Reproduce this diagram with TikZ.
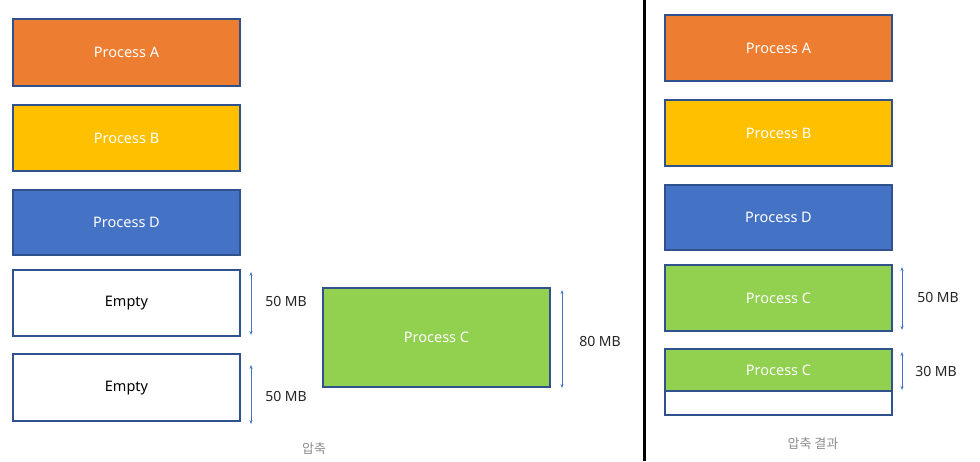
\documentclass[tikz,border=0pt]{standalone}
\usepackage{fontspec}
\setmainfont{Noto Sans}
\newfontfamily\krfont{Noto Sans CJK KR}
\usetikzlibrary{arrows.meta}
\definecolor{cA}{HTML}{ED7D31}
\definecolor{cB}{HTML}{FFC000}
\definecolor{cD}{HTML}{4472C4}
\definecolor{cC}{HTML}{92D050}
\definecolor{edge}{HTML}{2F528F}
\definecolor{arr}{HTML}{4472C4}
\definecolor{cap}{HTML}{8C8C8C}
\begin{document}
\begin{tikzpicture}[x=1pt,y=-1pt,
  proc/.style={draw=edge,line width=1.3pt,text=white,font=\fontsize{14.5}{16}\selectfont},
  emptybox/.style={draw=edge,line width=1.3pt,fill=white,text=black,font=\fontsize{14.5}{16}\selectfont},
  dim/.style={draw=arr,line width=0.8pt,{Stealth[length=4pt,width=3pt]}-{Stealth[length=4pt,width=3pt]}},
  lbl/.style={font=\fontsize{14}{16}\selectfont,text=black!85},
  captxt/.style={font=\krfont\fontsize{13}{15}\selectfont,text=cap}]
\useasboundingbox (0,0) rectangle (980,461);
% left column
\draw[proc,fill=cA] (13,19) rectangle (240,86) node[midway] (pa) {Process A};
\draw[proc,fill=cB] (13,105) rectangle (240,171) node[midway] (pb) {Process B};
\draw[proc,fill=cD] (13,190) rectangle (240,255) node[midway] (pd) {Process D};
\draw[emptybox] (13,270) rectangle (240,336) node[midway] (e1) {Empty};
\draw[emptybox] (13,354) rectangle (240,421) node[midway,yshift=-1pt] (e2) {Empty};
\coordinate (a1t) at (251,272); \coordinate (a1b) at (251,335);
\draw[dim] (a1t) -- (a1b);
\node[lbl] (l1) at (286,301) {50 MB};
\coordinate (a2t) at (251,365); \coordinate (a2b) at (251,424);
\draw[dim] (a2t) -- (a2b);
\node[lbl] (l2) at (286,396) {50 MB};
% middle
\draw[proc,fill=cC] (323,288) rectangle (550,387) node[midway] (pc) {Process C};
\coordinate (a3t) at (562,290); \coordinate (a3b) at (562,388);
\draw[dim] (a3t) -- (a3b);
\node[lbl] (l3) at (600,341) {80 MB};
\node[captxt] (cap1) at (314,449) {압축};
% divider
\coordinate (vt) at (644,0); \coordinate (vb) at (644,461);
\draw[line width=3pt,black] (vt) -- (vb);
% right column
\draw[proc,fill=cA] (665,15) rectangle (892,81) node[midway] (ra) {Process A};
\draw[proc,fill=cB] (665,100) rectangle (892,166) node[midway] (rb) {Process B};
\draw[proc,fill=cD] (665,185) rectangle (892,250) node[midway] (rd) {Process D};
\draw[proc,fill=cC] (665,265) rectangle (892,331) node[midway] (rc) {Process C};
\draw[emptybox] (665,349) rectangle (892,415);
\draw[proc,fill=cC] (665,349) rectangle (892,391) node[midway] (rc2) {Process C};
\coordinate (a4t) at (902,267); \coordinate (a4b) at (902,330);
\draw[dim] (a4t) -- (a4b);
\node[lbl] (l4) at (938,297) {50 MB};
\coordinate (a5t) at (902,352); \coordinate (a5b) at (902,390);
\draw[dim] (a5t) -- (a5b);
\node[lbl] (l5) at (936,371) {30 MB};
\node[captxt] (cap2) at (813,444) {압축 결과};
\end{tikzpicture}
\end{document}
